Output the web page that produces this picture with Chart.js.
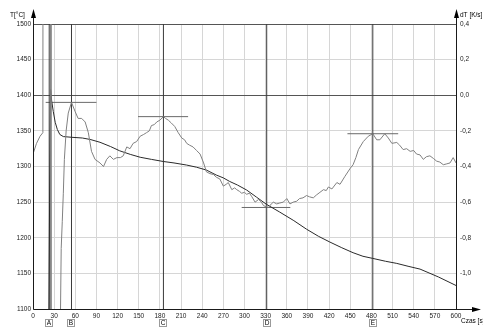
<!DOCTYPE html>
<html>
<head>
<meta charset="utf-8">
<script src="https://cdn.jsdelivr.net/npm/chart.js@4.4.1/dist/chart.umd.min.js"></script>
<style>
  html, body { margin: 0; padding: 0; background: #fff; }
  #wrap { width: 483px; height: 327px; position: relative; }
</style>
</head>
<body>
<div id="wrap"><canvas id="myChart"></canvas></div>
<script>
// cooling curve T [°C] (left axis)
const tempTime = [22, 23.5, 25, 26.5, 28.8, 31.5, 34.5, 38, 43, 55, 70, 81, 95, 110, 123, 138, 152, 168, 185, 200, 218, 232, 246, 260, 270, 279, 290, 303, 317, 331, 350, 370, 388, 405, 421, 438, 454, 468, 482, 500, 516, 532, 549, 575, 600];
const tempValue = [1000, 1250, 1408, 1392, 1377, 1362, 1352, 1345, 1342, 1341, 1340, 1338, 1334, 1328, 1322, 1317, 1313, 1310, 1307, 1305, 1302, 1299, 1295, 1288, 1284, 1279, 1274, 1267, 1257, 1247, 1236, 1224, 1212, 1202, 1194, 1186, 1179, 1174, 1171, 1167, 1164, 1160, 1156, 1145, 1133];

// derivative dT [K/s] (right axis)
const dtTime = [0, 5, 10, 14, 14.5, 25, 25.5, 38.5, 40, 41.5, 43, 44.5, 47, 50, 54.6, 59.6, 64, 69, 74, 78.5, 83, 88, 95, 100, 104.5, 109, 114, 119, 124, 128, 133, 137.6, 142, 147, 152, 157, 161, 165, 168, 172, 175.5, 180, 185, 188, 192, 196, 201, 206, 211, 215, 218, 222, 227, 232, 237, 242, 246, 251, 256, 260, 265, 270, 274, 277, 282, 286, 289, 293, 296, 300, 303, 307, 310, 315, 320, 324, 327, 334, 338, 341, 345.6, 350, 355, 360, 364.5, 369, 374, 378, 383, 388, 392, 397.6, 402, 407, 412, 416, 419, 424, 431, 435.5, 442.5, 450, 454, 458, 461.6, 468.5, 475.6, 482, 487.5, 492, 499, 504, 509, 516, 520, 525, 530, 535, 540, 544, 549, 553.6, 558, 563, 568, 572.6, 577, 582, 587, 591.5, 596, 600];
const dtValue = [-0.33, -0.27, -0.23, -0.21, 3, 3, -3, -1.4, -0.86, -0.71, -0.55, -0.36, -0.2, -0.1, -0.04, -0.09, -0.13, -0.13, -0.15, -0.21, -0.315, -0.36, -0.38, -0.4, -0.36, -0.34, -0.36, -0.35, -0.35, -0.34, -0.29, -0.3, -0.27, -0.26, -0.23, -0.22, -0.21, -0.2, -0.17, -0.165, -0.15, -0.14, -0.12, -0.13, -0.14, -0.155, -0.175, -0.21, -0.24, -0.25, -0.27, -0.28, -0.29, -0.31, -0.33, -0.38, -0.43, -0.44, -0.445, -0.46, -0.47, -0.51, -0.5, -0.49, -0.53, -0.52, -0.53, -0.54, -0.55, -0.545, -0.556, -0.55, -0.567, -0.6, -0.585, -0.6, -0.62, -0.63, -0.61, -0.6, -0.61, -0.605, -0.6, -0.58, -0.61, -0.6, -0.595, -0.58, -0.576, -0.563, -0.57, -0.576, -0.56, -0.545, -0.53, -0.535, -0.515, -0.526, -0.49, -0.5, -0.455, -0.41, -0.39, -0.35, -0.305, -0.26, -0.23, -0.216, -0.25, -0.25, -0.216, -0.24, -0.27, -0.265, -0.28, -0.305, -0.3, -0.315, -0.31, -0.33, -0.335, -0.36, -0.345, -0.34, -0.355, -0.37, -0.375, -0.39, -0.385, -0.38, -0.35, -0.38];

// characteristic points
const markerName = ['A', 'B', 'C', 'D', 'E'];
const markerTime = [23, 54.6, 185, 331.5, 482];
const levelValue = [-0.04, -0.12, -0.63, -0.216];
const levelFrom = [18, 149, 296, 446];
const levelTo = [90, 220, 365, 518];

Chart.defaults.font.family = "'Liberation Sans', Arial, sans-serif";
Chart.defaults.font.size = 6.5;
Chart.defaults.color = '#222';

const datasets = [];

datasets.push({
    label: 'dT',
    data: dtTime.map((t, i) => ({x: t, y: dtValue[i]})),
    yAxisID: 'y2',
    borderColor: '#808080',
    borderWidth: 1,
    clip: 0
});
datasets.push({
    label: 'T',
    data: tempTime.map((t, i) => ({x: t, y: tempValue[i]})),
    yAxisID: 'y',
    borderColor: '#2a2a2a',
    borderWidth: 1,
    clip: 0
});
markerTime.forEach(t => {
    datasets.push({
        data: [{x: t, y: 1100}, {x: t, y: 1500}],
        yAxisID: 'y',
        borderColor: '#3a3a3a',
        borderWidth: 1
    });
});
levelValue.forEach((v, i) => {
    datasets.push({
        data: [{x: levelFrom[i], y: v}, {x: levelTo[i], y: v}],
        yAxisID: 'y2',
        borderColor: '#6a6a6a',
        borderWidth: 1
    });
});

const axisDecor = {
    id: 'axisDecor',
    afterDraw(chart) {
        const ctx = chart.ctx;
        const a = chart.chartArea;
        const xs = chart.scales.x;
        const L = Math.round(a.left) + 0.5;
        const R = Math.round(a.right) + 0.5;
        const B = Math.round(a.bottom) + 0.5;
        ctx.save();
        ctx.strokeStyle = '#1a1a1a';
        ctx.fillStyle = '#000';
        ctx.lineWidth = 1;
        ctx.beginPath();
        ctx.moveTo(L, B); ctx.lineTo(L, 14);
        ctx.moveTo(R, B); ctx.lineTo(R, 14);
        ctx.moveTo(L, B); ctx.lineTo(476, B);
        ctx.stroke();
        // arrows
        ctx.beginPath();
        ctx.moveTo(L, 9); ctx.lineTo(L - 2.5, 18); ctx.lineTo(L + 2.5, 18); ctx.closePath();
        ctx.moveTo(R, 9); ctx.lineTo(R - 2.5, 18); ctx.lineTo(R + 2.5, 18); ctx.closePath();
        ctx.moveTo(481, B); ctx.lineTo(472, B - 2.5); ctx.lineTo(472, B + 2.5); ctx.closePath();
        ctx.fill();
        // axis titles
        ctx.font = "6.5px 'Liberation Sans', Arial, sans-serif";
        ctx.textBaseline = 'middle';
        ctx.textAlign = 'left';
        ctx.fillText('T[°C]', 10, 15);
        ctx.fillText('dT [K/s]', 460, 15);
        ctx.fillText('Czas [s]', 461, 321);
        // marker labels
        ctx.textAlign = 'center';
        ctx.strokeStyle = '#9a9a9a';
        markerName.forEach((n, i) => {
            const px = Math.round(xs.getPixelForValue(markerTime[i]));
            ctx.strokeRect(px - 3.5, 319.5, 7, 7);
            ctx.fillText(n, px, 323.5);
        });
        ctx.restore();
    }
};

const ctx = document.getElementById('myChart').getContext('2d');

const myChart = new Chart(ctx, {
    type: 'scatter',
    data: { datasets: datasets },
    options: {
        responsive: true,
        maintainAspectRatio: false,
        animation: false,
        showLine: true,
        elements: { point: { radius: 0 }, line: { tension: 0 } },
        layout: { padding: { top: 24, left: 0, right: 0, bottom: 0 } },
        plugins: { legend: { display: false }, tooltip: { enabled: false } },
        scales: {
            x: {
                type: 'linear',
                min: 0, max: 600,
                afterFit: s => { s.height = 18; },
                border: { display: false },
                grid: { color: '#d6d6d6', drawTicks: false },
                ticks: { stepSize: 30, autoSkip: false, maxRotation: 0, padding: 3, callback: v => String(v) }
            },
            y: {
                position: 'left',
                min: 1100, max: 1500,
                afterFit: s => { s.width = 33; },
                border: { display: false },
                grid: {
                    drawTicks: false,
                    color: c => (c.tick.value === 1400 || c.tick.value === 1500) ? '#555' : '#d6d6d6'
                },
                ticks: { stepSize: 50, padding: 2, callback: v => String(v) }
            },
            y2: {
                position: 'right',
                min: -1.2, max: 0.4,
                afterFit: s => { s.width = 27; },
                border: { display: false },
                grid: { display: false, drawTicks: false },
                ticks: {
                    stepSize: 0.2,
                    padding: 4,
                    callback: v => {
                        if (v < -1.1) return '';
                        if (Math.abs(v) < 1e-9) return '0,0';
                        return v.toFixed(1).replace('.', ',');
                    }
                }
            }
        }
    },
    plugins: [axisDecor]
});
</script>
</body>
</html>
